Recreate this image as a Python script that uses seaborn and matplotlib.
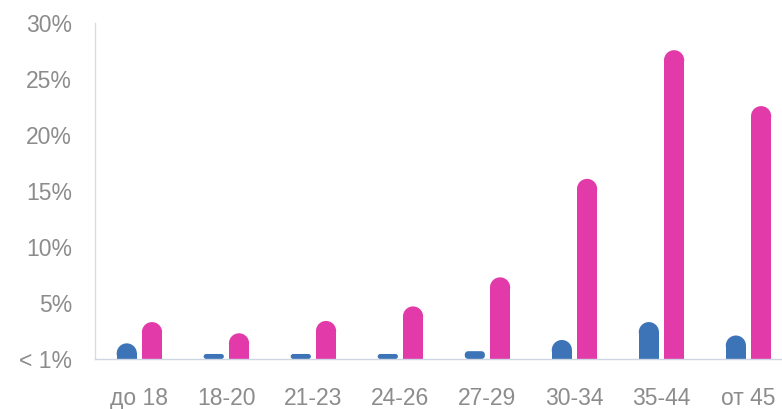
import pandas as pd
import matplotlib
matplotlib.use("Agg")
import matplotlib.pyplot as plt
from matplotlib.patches import FancyBboxPatch, Rectangle, Ellipse
import seaborn as sns

# data
ages = ["до 18", "18-20", "21-23", "24-26", "27-29", "30-34", "35-44", "от 45"]
blue_vals = [1.4, 0.45, 0.45, 0.45, 0.7, 1.7, 3.3, 2.1]
pink_vals = [3.3, 2.3, 3.4, 4.7, 7.3, 16.1, 27.6, 22.6]
y_ticks = [0, 5, 10, 15, 20, 25, 30]
y_labels = ["< 1%", "5%", "10%", "15%", "20%", "25%", "30%"]

df = pd.DataFrame({
    "age": ages * 2,
    "share": blue_vals + pink_vals,
    "group": ["blue"] * len(ages) + ["pink"] * len(ages),
})

sns.set_style("white")
plt.rcParams["font.family"] = ["Liberation Sans", "DejaVu Sans"]

fig = plt.figure(figsize=(7.82, 4.09), dpi=100)
ax = fig.add_axes([95 / 782, 50 / 409, 1 - 95 / 782, (359 - 23.3) / 409])

sns.barplot(data=df, x="age", y="share", hue="group",
            palette={"blue": "#3d74b8", "pink": "#e23ba9"},
            width=0.58, gap=0.2, saturation=1, legend=False, ax=ax)

ax.set_xlim(-0.51, 7.385)
ax.set_ylim(0, 30)

# rounded tops: swap each bar for a rect + half ellipse (or a pill if tiny)
px_x = ax.transData.transform((1, 0))[0] - ax.transData.transform((0, 0))[0]
px_y = ax.transData.transform((0, 1))[1] - ax.transData.transform((0, 0))[1]
aspect = px_x / px_y
for p in list(ax.patches):
    x0, w, h = p.get_x(), p.get_width(), p.get_height()
    fc = p.get_facecolor()
    p.set_visible(False)
    ry = w / 2 * aspect
    if h >= ry:
        ax.add_patch(Rectangle((x0, 0), w, h - ry, fc=fc, ec="none"))
        ax.add_patch(Ellipse((x0 + w / 2, h - ry), w, 2 * ry, fc=fc, ec="none"))
    else:
        r = h / aspect / 2
        ax.add_patch(FancyBboxPatch((x0, 0), w, h,
                                    boxstyle=f"round,pad=0,rounding_size={r}",
                                    mutation_aspect=aspect, fc=fc, ec="none"))

ax.set_yticks(y_ticks)
ax.set_yticklabels(y_labels)
ax.set_xlabel("")
ax.set_ylabel("")
ax.tick_params(axis="y", length=0, pad=16.5, labelsize=16.5, labelcolor="#8c8c8c")
ax.tick_params(axis="x", length=0, pad=20, labelsize=16.5, labelcolor="#8c8c8c")

sns.despine(ax=ax, top=True, right=True)
ax.spines["left"].set_color("#dcdcdc")
ax.spines["bottom"].set_color("#cdd6e2")
ax.spines["left"].set_linewidth(1)
ax.spines["bottom"].set_linewidth(1)

fig.savefig("out.png", dpi=100)
